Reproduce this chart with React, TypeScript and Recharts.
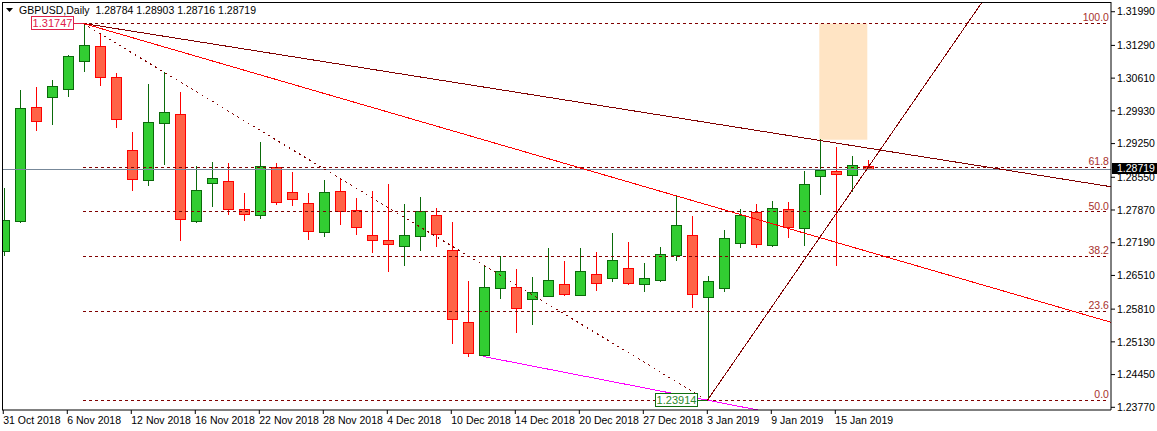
import React from "react";
import {
  ComposedChart,
  Bar,
  XAxis,
  YAxis,
  ReferenceLine,
  ReferenceArea,
  ReferenceDot,
} from "recharts";

const FONT = "'Liberation Sans Narrow', 'Liberation Sans', Arial, sans-serif";

// daily candles, 31 Oct 2018 .. 17 Jan 2019 (index = bar number)
const opens = [
  1.27012, 1.27648, 1.30004, 1.30212, 1.30378, 1.30972, 1.31272, 1.30627, 1.2911, 1.28487,
  1.29672, 1.29859, 1.27635, 1.28425, 1.28466, 1.27884, 1.2776, 1.28757, 1.28238, 1.28009,
  1.27407, 1.28259, 1.27864, 1.27344, 1.2724, 1.27116, 1.27323, 1.2776, 1.27032, 1.25536,
  1.24851, 1.26243, 1.26264, 1.26014, 1.26077, 1.26326, 1.26097, 1.26534, 1.26451, 1.26658,
  1.26326, 1.26409, 1.26929, 1.27344, 1.26056, 1.26243, 1.27178, 1.27822, 1.27136, 1.27884,
  1.2749, 1.2857, 1.28674, 1.28591, 1.28784,
];
const highs = [
  1.28321, 1.30364, 1.30426, 1.30571, 1.31091, 1.31747, 1.31533, 1.30717, 1.29491, 1.30488,
  1.30744, 1.30328, 1.28784, 1.28867, 1.28847, 1.28229, 1.29283, 1.28847, 1.28666, 1.28229,
  1.28493, 1.28514, 1.28119, 1.28265, 1.28416, 1.27995, 1.2814, 1.27905, 1.27627, 1.26388,
  1.26721, 1.26908, 1.26638, 1.26471, 1.27074, 1.26804, 1.27074, 1.26991, 1.27386, 1.27199,
  1.26762, 1.27095, 1.28175, 1.27739, 1.26492, 1.27448, 1.27884, 1.27988, 1.28051, 1.2803,
  1.28674, 1.29339, 1.29173, 1.28986, 1.28903,
];
const lows = [
  1.2692, 1.27606, 1.29518, 1.29642, 1.30224, 1.30744, 1.30453, 1.2958, 1.28271, 1.28375,
  1.28811, 1.27232, 1.27594, 1.27938, 1.27772, 1.27648, 1.27689, 1.2798, 1.27959, 1.27253,
  1.27315, 1.27564, 1.27357, 1.26983, 1.26588, 1.26712, 1.27012, 1.27107, 1.25079, 1.24809,
  1.24826, 1.26014, 1.25308, 1.25474, 1.26056, 1.26077, 1.26077, 1.26181, 1.26368, 1.26305,
  1.2616, 1.26368, 1.26804, 1.25827, 1.23914, 1.2616, 1.27074, 1.27074, 1.27095, 1.27282,
  1.27116, 1.28188, 1.267, 1.28238, 1.28716,
];
const closes = [
  1.27656, 1.29983, 1.29713, 1.3044, 1.31064, 1.31292, 1.30627, 1.29755, 1.28508, 1.29692,
  1.299, 1.27677, 1.28279, 1.28529, 1.27884, 1.27781, 1.28778, 1.2803, 1.28092, 1.27427,
  1.28238, 1.27843, 1.2751, 1.2724, 1.27157, 1.27344, 1.27843, 1.27365, 1.25599, 1.24892,
  1.26264, 1.26596, 1.25827, 1.2616, 1.26409, 1.26118, 1.26596, 1.26347, 1.26825, 1.26347,
  1.26451, 1.26949, 1.27552, 1.26118, 1.26388, 1.27282, 1.2776, 1.27157, 1.27905, 1.2751,
  1.28404, 1.28695, 1.28612, 1.28799, 1.28719,
];

const xTickIdx = [0, 4, 8, 12, 16, 20, 24, 28, 32, 36, 40, 44, 48, 52];
const xTickLabels = [
  "31 Oct 2018", "6 Nov 2018", "12 Nov 2018", "16 Nov 2018", "22 Nov 2018", "28 Nov 2018",
  "4 Dec 2018", "10 Dec 2018", "14 Dec 2018", "20 Dec 2018", "27 Dec 2018", "3 Jan 2019",
  "9 Jan 2019", "15 Jan 2019",
];
const yTicks = [
  1.2377, 1.2445, 1.2513, 1.2581, 1.2651, 1.2719, 1.2787, 1.2855, 1.2925, 1.2993, 1.3061,
  1.3129, 1.3199,
];

// fibonacci retracement from the 7 Nov high to the 3 Jan low
const fibLabels = ["0.0", "23.6", "38.2", "50.0", "61.8", "100.0"];
const fibPrices = [1.23914, 1.25763, 1.26906, 1.27831, 1.28755, 1.31747];
const fibFrom = 5;
const fibTo = 69.1;

// trendlines: [bar, price] pairs
const maroonTrend = [[5, 1.31747], [69.3, 1.2835]];
const redTrend = [[5, 1.31747], [69.3, 1.2553]];
const fibDiagonal = [[5, 1.31747], [44, 1.23914]];
const magentaTrend = [[30, 1.24826], [50, 1.2353]];
const steepTrend = [[44, 1.23914], [62, 1.32587]];

const zoneBars = [51, 54];
const zonePrices = [1.29331, 1.31747];

const highMark = { k: 5, price: 1.31747 };
const lowMark = { k: 44, price: 1.23914 };
const lastPrice = 1.28719;
const header = "GBPUSD,Daily  1.28784 1.28903 1.28716 1.28719";

const X_DOMAIN: [number, number] = [-0.08, 69.23];
const Y_DOMAIN: [number, number] = [1.23714, 1.32192];

const data = opens.map((o, i) => ({
  k: i,
  open: o,
  high: highs[i],
  low: lows[i],
  close: closes[i],
  range: [lows[i], highs[i]],
}));

const Candle = (props: any) => {
  const { x, y, width, height, payload } = props;
  if (x == null || y == null) return null;
  const { open, close, high, low } = payload;
  const up = close >= open;
  const yTop = Math.min(y, y + height);
  const yBot = Math.max(y, y + height);
  const span = high - low || 1;
  const py = (p: number) => yTop + ((high - p) / span) * (yBot - yTop);
  const cx = Math.round(x + width / 2) + 0.5;
  const bTop = Math.round(py(Math.max(open, close)));
  const bBot = Math.round(py(Math.min(open, close)));
  const stroke = up ? "#0A6A0A" : "#FF0000";
  const fill = up ? "#32CD32" : "#FF6347";
  return (
    <g shapeRendering="crispEdges">
      <line x1={cx} x2={cx} y1={Math.round(yTop)} y2={Math.round(yBot)} stroke={stroke} />
      <rect
        x={cx - 5}
        y={bTop + 0.5}
        width={10}
        height={Math.max(1, bBot - bTop)}
        fill={fill}
        stroke={stroke}
      />
    </g>
  );
};

const XTick = ({ x, y, payload }: any) => {
  const i = xTickIdx.indexOf(payload.value);
  return (
    <text x={x} y={y + 8} textAnchor="start" fontSize={10.5} fontFamily={FONT} fill="#000">
      {xTickLabels[i]}
    </text>
  );
};

const priceBox = (text: string, color: string, border: string) => (props: any) => {
  const { cx, cy } = props;
  if (cx == null) return null;
  const bx = Math.round(cx) - 51.5;
  const by = Math.round(cy) - 6.5;
  return (
    <g>
      <line
        x1={bx + 42}
        x2={cx}
        y1={Math.round(cy) + 0.5}
        y2={Math.round(cy) + 0.5}
        stroke={border}
        shapeRendering="crispEdges"
      />
      <rect x={bx} y={by} width={42} height={13} fill="#fff" stroke={border} shapeRendering="crispEdges" />
      <text x={bx + 21} y={by + 10.5} textAnchor="middle" fontSize={11} fontFamily={FONT} fill={color}>
        {text}
      </text>
    </g>
  );
};

const fibText = (text: string) => (props: any) => {
  const { cx, cy } = props;
  if (cx == null) return null;
  return (
    <text x={cx} y={cy - 2} textAnchor="end" fontSize={10.5} fontFamily={FONT} fill="#A8302C">
      {text}
    </text>
  );
};

const lastPriceTag = (props: any) => {
  const { cx, cy } = props;
  if (cx == null) return null;
  const y0 = Math.round(cy) - 6;
  return (
    <g>
      <rect x={cx + 1} y={y0} width={46} height={11} fill="#000" />
      <text x={cx + 6} y={y0 + 9} fontSize={10.5} fontFamily={FONT} fill="#fff">
        {lastPrice.toFixed(5)}
      </text>
    </g>
  );
};

const seg = (pts: number[][]) => [
  { x: pts[0][0], y: pts[0][1] },
  { x: pts[1][0], y: pts[1][1] },
];

export default function App() {
  return (
    <div style={{ position: "relative", width: 1157, height: 431, background: "#fff" }}>
      <style>{"body{margin:0}"}</style>
      <ComposedChart
        width={1157}
        height={431}
        data={data}
        margin={{ top: 2, right: 0, bottom: 0, left: 2 }}
      >
        <XAxis
          dataKey="k"
          type="number"
          domain={X_DOMAIN}
          allowDataOverflow
          ticks={xTickIdx}
          interval={0}
          tick={<XTick />}
          tickSize={4}
          tickLine={{ stroke: "#000" }}
          axisLine={{ stroke: "#000" }}
          height={21}
        />
        <YAxis
          orientation="right"
          type="number"
          domain={Y_DOMAIN}
          allowDataOverflow
          ticks={yTicks}
          interval={0}
          width={46}
          tickSize={4}
          tickLine={{ stroke: "#000" }}
          axisLine={{ stroke: "#000" }}
          tick={{ fontSize: 10.5, fill: "#000", fontFamily: FONT }}
          tickFormatter={(v: number) => v.toFixed(5)}
        />
        <ReferenceArea
          x1={zoneBars[0]}
          x2={zoneBars[1]}
          y1={zonePrices[0]}
          y2={zonePrices[1]}
          fill="#FFE4C4"
          fillOpacity={1}
          stroke="none"
          ifOverflow="hidden"
        />
        <ReferenceLine y={lastPrice} stroke="#778899" ifOverflow="hidden" shapeRendering="crispEdges" />
        <Bar dataKey="range" barSize={11} shape={<Candle />} isAnimationActive={false} />
        {fibPrices.map((p, i) => (
          <ReferenceLine
            key={"fib" + i}
            segment={[
              { x: fibFrom, y: p },
              { x: fibTo, y: p },
            ]}
            stroke="#800000"
            strokeDasharray="3 3"
            shapeRendering="crispEdges"
            ifOverflow="hidden"
          />
        ))}
        <ReferenceLine
          segment={seg(fibDiagonal)}
          stroke="#800000"
          strokeDasharray="2 4"
          shapeRendering="crispEdges"
          ifOverflow="hidden"
        />
        <ReferenceLine segment={seg(maroonTrend)} stroke="#800000" shapeRendering="crispEdges" ifOverflow="hidden" />
        <ReferenceLine segment={seg(redTrend)} stroke="#FF0000" shapeRendering="crispEdges" ifOverflow="hidden" />
        <ReferenceLine segment={seg(magentaTrend)} stroke="#FF00FF" shapeRendering="crispEdges" ifOverflow="hidden" />
        <ReferenceLine segment={seg(steepTrend)} stroke="#800000" shapeRendering="crispEdges" ifOverflow="hidden" />
        {fibPrices.map((p, i) => (
          <ReferenceDot
            key={"fl" + i}
            x={fibTo}
            y={p}
            r={0}
            ifOverflow="visible"
            shape={fibText(fibLabels[i])}
          />
        ))}
        <ReferenceDot
          x={highMark.k}
          y={highMark.price}
          r={0}
          ifOverflow="visible"
          shape={priceBox(highMark.price.toFixed(5), "#E0204A", "#E0204A")}
        />
        <ReferenceDot
          x={lowMark.k}
          y={lowMark.price}
          r={0}
          ifOverflow="visible"
          shape={priceBox(lowMark.price.toFixed(5), "#2A8A2A", "#0E6E0E")}
        />
        <ReferenceDot x={X_DOMAIN[1]} y={lastPrice} r={0} ifOverflow="visible" shape={lastPriceTag} />
      </ComposedChart>
      <div
        style={{
          position: "absolute",
          left: 2,
          top: 2,
          width: 1109,
          height: 408,
          borderTop: "1px solid #000",
          borderLeft: "1px solid #000",
          boxSizing: "border-box",
          pointerEvents: "none",
        }}
      />
      <div
        style={{
          position: "absolute",
          left: 6,
          top: 4,
          fontFamily: FONT,
          fontSize: 10.5,
          color: "#000",
          whiteSpace: "pre",
          display: "flex",
          alignItems: "center",
          gap: 6,
          background: "#fff",
        }}
      >
        <svg width={7} height={5}>
          <polygon points="0,0 7,0 3.5,4" fill="#000" />
        </svg>
        <span>{header}</span>
      </div>
    </div>
  );
}
